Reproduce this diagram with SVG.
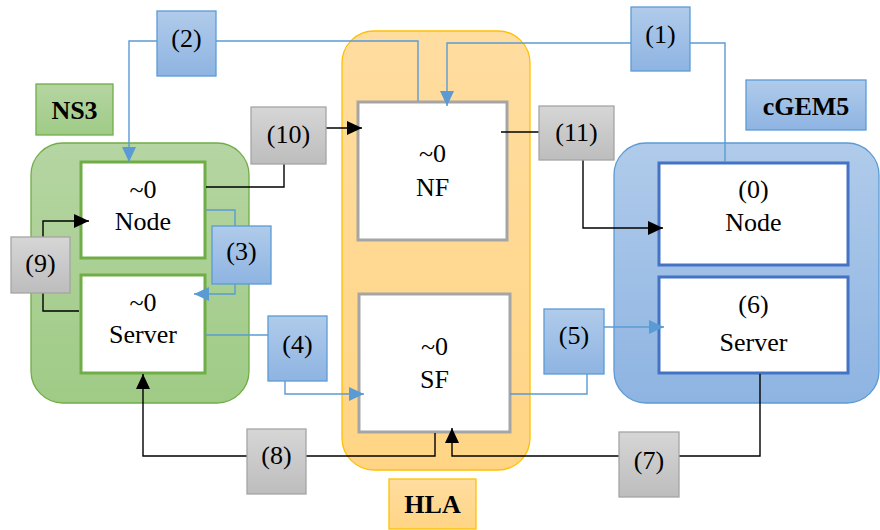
<svg xmlns="http://www.w3.org/2000/svg" width="880" height="530" viewBox="0 0 880 530">
<defs>
<linearGradient id="gGreen" x1="0" y1="0" x2="0" y2="1"><stop offset="0" stop-color="#B5D5A2"/><stop offset="1" stop-color="#9FCB86"/></linearGradient>
<linearGradient id="gBlue" x1="0" y1="0" x2="0" y2="1"><stop offset="0" stop-color="#B0CBEA"/><stop offset="1" stop-color="#8EB4E2"/></linearGradient>
<linearGradient id="gGray" x1="0" y1="0" x2="0" y2="1"><stop offset="0" stop-color="#D6D6D6"/><stop offset="1" stop-color="#BDBDBD"/></linearGradient>
<linearGradient id="gOrange" x1="0" y1="0" x2="0" y2="1"><stop offset="0" stop-color="#FFDDA0"/><stop offset="1" stop-color="#FFD585"/></linearGradient>
<marker id="aBlk" markerUnits="userSpaceOnUse" markerWidth="16" markerHeight="14" refX="15" refY="7" orient="auto"><path d="M0,0 L15,7 L0,14 Z" fill="#000"/></marker>
<marker id="aBlu" markerUnits="userSpaceOnUse" markerWidth="16" markerHeight="14" refX="15" refY="7" orient="auto"><path d="M0,0 L15,7 L0,14 Z" fill="#5B9BD5"/></marker>
<style>
text{font-family:"Liberation Serif","Times New Roman",serif;font-size:26px;fill:#000;text-anchor:middle}
.b{font-weight:bold}
.cont{stroke-width:1.3}
.inner{fill:#fff;stroke-width:3}
.lb{fill:url(#gBlue);stroke:#5B9BD5;stroke-width:1.3}
.lg{fill:url(#gGray);stroke:#A5A5A5;stroke-width:1.3}
.cb{fill:none;stroke:#5B9BD5;stroke-width:1.4}
.ck{fill:none;stroke:#000;stroke-width:1.4}
</style>
</defs>
<rect width="880" height="530" fill="#fff"/>

<g id="containers">
<rect x="31" y="143" width="218" height="260" rx="32" fill="url(#gGreen)" stroke="#70AD47" class="cont"/>
<rect x="342" y="31" width="188" height="439" rx="32" fill="url(#gOrange)" stroke="#FFC000" class="cont"/>
<rect x="614" y="143" width="265" height="260" rx="32" fill="url(#gBlue)" stroke="#5B9BD5" class="cont"/>
</g>

<g id="ns3-label"><rect x="36" y="84" width="77" height="51" fill="url(#gGreen)" stroke="#70AD47" stroke-width="1.3"/><text x="74.5" y="119" class="b">NS3</text></g>
<g id="hla-label"><rect x="389" y="479" width="87" height="50" fill="url(#gOrange)" stroke="#FFC000" stroke-width="1.3"/><text x="432.5" y="513" class="b">HLA</text></g>
<g id="cgem5-label"><rect x="746" y="80" width="120" height="50" fill="url(#gBlue)" stroke="#5B9BD5" stroke-width="1.3"/><text x="806" y="115" class="b">cGEM5</text></g>

<g id="ns3-node"><rect x="81" y="162" width="124" height="96" class="inner" stroke="#70AD47"/><text x="143" y="198">~0</text><text x="143" y="230">Node</text></g>
<g id="ns3-server"><rect x="81" y="275" width="124" height="98" class="inner" stroke="#70AD47"/><text x="143" y="311">~0</text><text x="143" y="343">Server</text></g>
<g id="nf"><rect x="358" y="102" width="149" height="138" class="inner" stroke="#A5A5A5"/><text x="432.5" y="162">~0</text><text x="432.5" y="196">NF</text></g>
<g id="sf"><rect x="359" y="294" width="151" height="138" class="inner" stroke="#A5A5A5"/><text x="434.5" y="355">~0</text><text x="434.5" y="388">SF</text></g>
<g id="cgem-node"><rect x="659" y="163" width="189" height="102" class="inner" stroke="#4472C4"/><text x="753.5" y="198">(0)</text><text x="753.5" y="231">Node</text></g>
<g id="cgem-server"><rect x="659" y="277" width="189" height="96" class="inner" stroke="#4472C4"/><text x="753.5" y="313">(6)</text><text x="753.5" y="351">Server</text></g>

<g id="connectors">
<path class="cb" d="M157,41 H129 V162" marker-end="url(#aBlu)"/>
<path class="cb" d="M216,41 H418 V101"/>
<path class="cb" d="M631,43 H447 V106" marker-end="url(#aBlu)"/>
<path class="cb" d="M690,43 H725 V162"/>
<path class="cb" d="M206,210 H235 V226"/>
<path class="cb" d="M235,284 V294 H194" marker-end="url(#aBlu)"/>
<path class="cb" d="M206,335 H268"/>
<path class="cb" d="M285,381 V394 H364" marker-end="url(#aBlu)"/>
<path class="cb" d="M510,394 H587 V374"/>
<path class="cb" d="M604,327 H664" marker-end="url(#aBlu)"/>
<path class="ck" d="M206,187 H284 V164"/>
<path class="ck" d="M326,128 H362" marker-end="url(#aBlk)"/>
<path class="ck" d="M501,132 H539"/>
<path class="ck" d="M583,160 V228 H663" marker-end="url(#aBlk)"/>
<path class="ck" d="M43,237 V221 H89" marker-end="url(#aBlk)"/>
<path class="ck" d="M43,293 V311 H79"/>
<path class="ck" d="M435,433 V456 H306"/>
<path class="ck" d="M247,456 H143 V374" marker-end="url(#aBlk)"/>
<path class="ck" d="M760,374 V456 H679"/>
<path class="ck" d="M619,456 H452 V428" marker-end="url(#aBlk)"/>
</g>

<g id="l1"><rect x="631" y="7" width="59" height="64" class="lb"/><text x="660.5" y="43">(1)</text></g>
<g id="l2"><rect x="157" y="11" width="59" height="65" class="lb"/><text x="186.5" y="47">(2)</text></g>
<g id="l3"><rect x="212" y="226" width="59" height="58" class="lb"/><text x="241.5" y="260">(3)</text></g>
<g id="l4"><rect x="268" y="316" width="59" height="65" class="lb"/><text x="297.5" y="353">(4)</text></g>
<g id="l5"><rect x="544" y="309" width="60" height="65" class="lb"/><text x="574" y="344">(5)</text></g>
<g id="l7"><rect x="619" y="432" width="60" height="65" class="lg"/><text x="649" y="469">(7)</text></g>
<g id="l8"><rect x="247" y="429" width="59" height="65" class="lg"/><text x="276.5" y="464">(8)</text></g>
<g id="l9"><rect x="11" y="237" width="59" height="56" class="lg"/><text x="40.5" y="272">(9)</text></g>
<g id="l10"><rect x="251" y="107" width="75" height="57" class="lg"/><text x="288.5" y="143">(10)</text></g>
<g id="l11"><rect x="539" y="106" width="75" height="54" class="lg"/><text x="576.5" y="141">(11)</text></g>
</svg>
